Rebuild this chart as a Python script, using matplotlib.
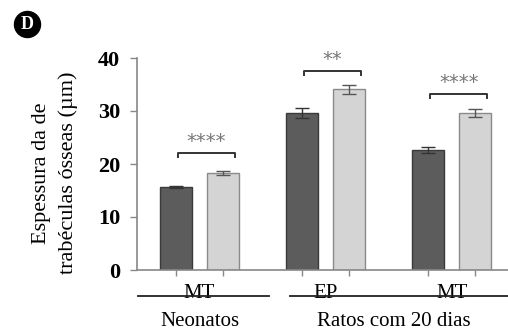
import numpy as np
import matplotlib.pyplot as plt
from matplotlib.lines import Line2D

# dados (espessura das trabéculas, µm)
grupos = ["MT", "EP", "MT"]
controle = [15.6, 29.6, 22.6]
controle_err = [0.2, 1.0, 0.6]
tratado = [18.3, 34.1, 29.6]
tratado_err = [0.4, 0.8, 0.8]
signif = ["****", "**", "****"]
bracket_y = [22.1, 37.5, 33.2]

plt.rcParams['font.family'] = ['Liberation Serif', 'DejaVu Serif']

fig = plt.figure(figsize=(5.08, 3.36), dpi=100)
ax = fig.add_axes([137/508, 1-270/336, 1-137/508, 212/336])

# posicoes
centros = np.arange(len(grupos)) * 2.68
x1 = centros
x2 = centros + 1.0
larg = 0.68

ax.bar(x1, controle, width=larg, color='#5c5c5c', edgecolor='#3a3a3a', linewidth=1.0, zorder=2)
ax.bar(x2, tratado, width=larg, color='#d4d4d4', edgecolor='#8a8a8a', linewidth=1.0, zorder=2)
ax.errorbar(x1, controle, yerr=controle_err, fmt='none', ecolor='#333333', elinewidth=1.0, capsize=5, capthick=1.0, zorder=3)
ax.errorbar(x2, tratado, yerr=tratado_err, fmt='none', ecolor='#555555', elinewidth=1.0, capsize=5, capthick=1.0, zorder=3)

# colchetes de significancia
for i in range(len(grupos)):
    a = x1[i] + 0.05
    b = x2[i] + 0.25
    y = bracket_y[i]
    ax.plot([a, a, b, b], [y - 0.8, y, y, y - 0.8], color='#333333', lw=1.4, clip_on=False)
    ax.text((a + b) / 2, y + 0.4, signif[i], ha='center', va='bottom', fontsize=14,
            color='#777777', family='DejaVu Sans')

ax.set_xlim(-0.83, 7.06)
ax.set_ylim(0, 40)
ax.set_yticks([0, 10, 20, 30, 40])
ax.set_yticklabels(['0', '10', '20', '30', '40'], fontsize=16, fontweight='bold')

ax.set_xticks(list(x1) + list(x2))
ax.set_xticklabels([])
ax.set_xticks(centros + 0.5, minor=True)
ax.set_xticklabels(grupos, minor=True, fontsize=15)
ax.tick_params(axis='x', which='major', length=4, color='#888888', width=1.0)
ax.tick_params(axis='x', which='minor', length=0, pad=10)
ax.tick_params(axis='y', length=5, color='#888888', width=1.0, pad=7)

for s in ['top', 'right']:
    ax.spines[s].set_visible(False)
for s in ['left', 'bottom']:
    ax.spines[s].set_color('#888888')
    ax.spines[s].set_linewidth(1.2)

# linhas dos grupos
yl = 1 - 296/336
fig.add_artist(Line2D([138/508, 269/508], [yl, yl], color='#222222', lw=1.3))
fig.add_artist(Line2D([290/508, 1.0], [yl, yl], color='#222222', lw=1.3))
fig.text(200/508, 1 - 321/336, "Neonatos", ha='center', va='center', fontsize=15)
fig.text(394/508, 1 - 321/336, "Ratos com 20 dias", ha='center', va='center', fontsize=15)

fig.text(55/508, 1 - 173/336, "Espessura da de\ntrabéculas ósseas (µm)", rotation=90,
         ha='center', va='center', fontsize=16, linespacing=1.45, multialignment='center')

# letra do painel
fig.text(27.5/508, 1 - 24.5/336, "D", ha='center', va='center', color='white',
         fontsize=13, fontweight='bold',
         bbox=dict(boxstyle='circle,pad=0.25', fc='black', ec='black'))

fig.savefig("out.png", dpi=100)
